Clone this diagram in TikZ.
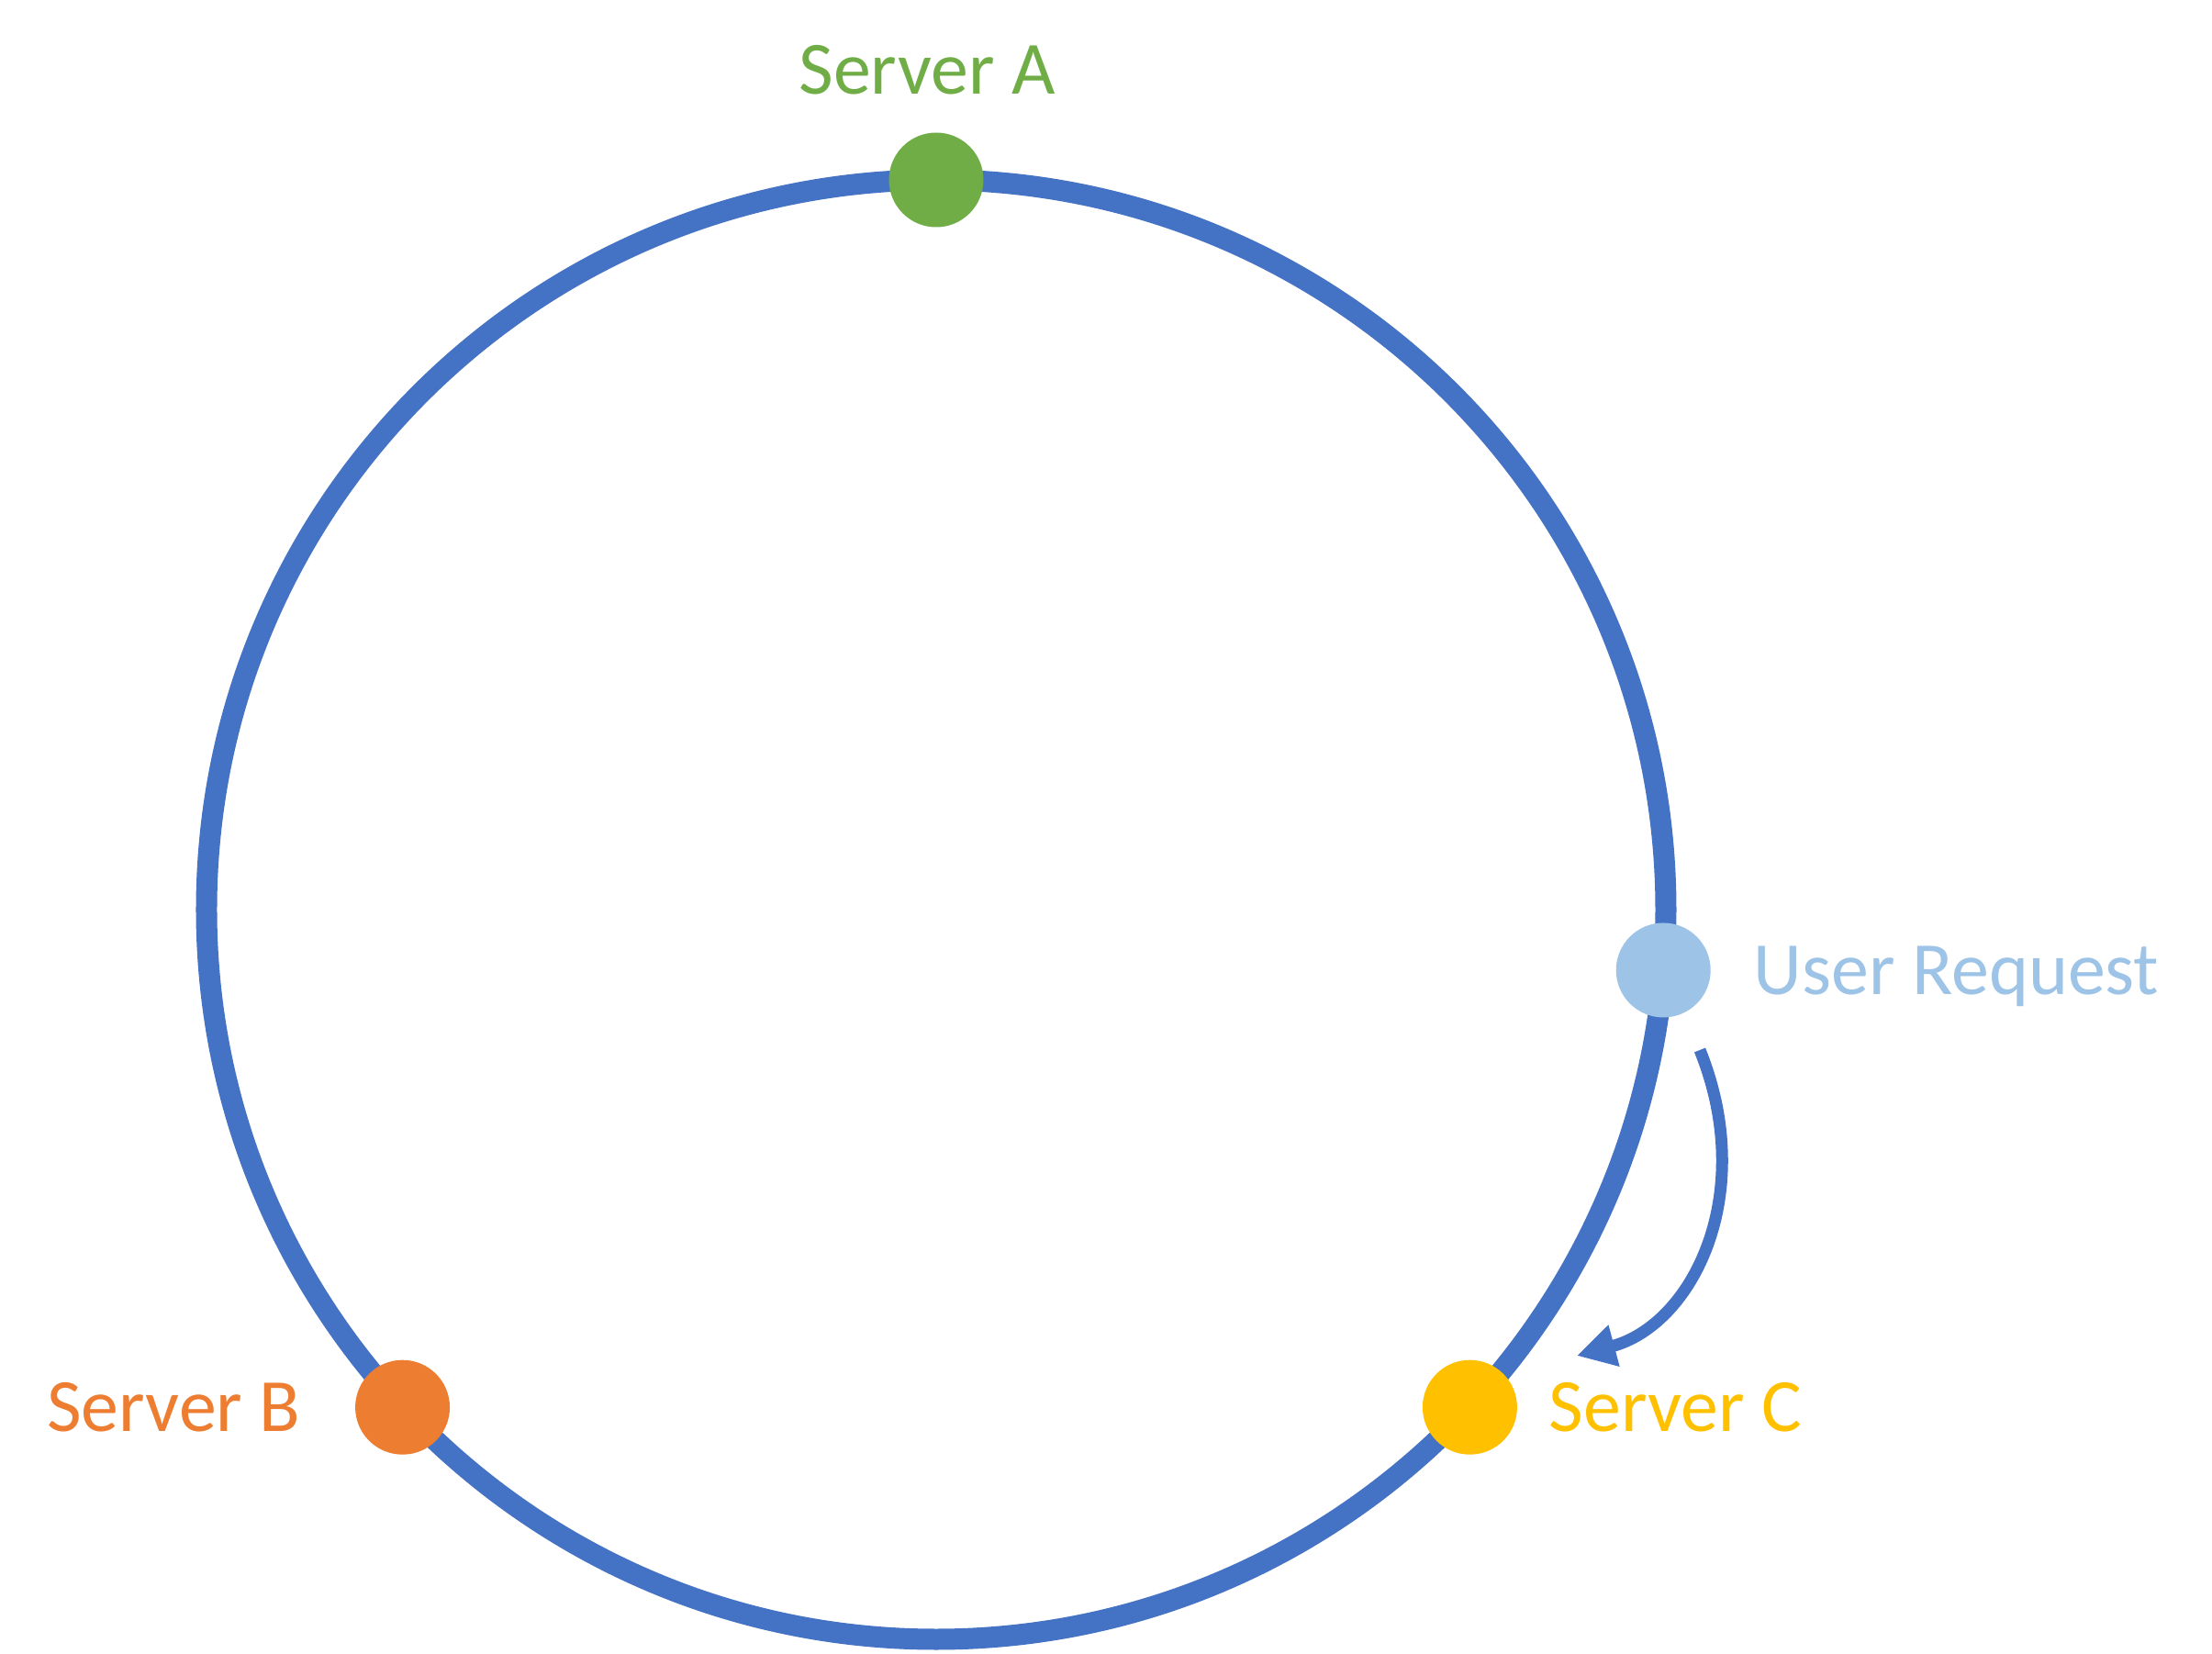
\documentclass[tikz,border=0pt]{standalone}
\usepackage{fontspec}
\setmainfont{Carlito}
\usetikzlibrary{arrows.meta}

\definecolor{ringblue}{HTML}{4472C4}
\definecolor{srvgreen}{HTML}{70AD47}
\definecolor{srvorange}{HTML}{ED7D31}
\definecolor{srvgold}{HTML}{FFC000}
\definecolor{reqblue}{HTML}{9DC3E6}

\tikzset{
    server/.style={circle, fill=#1, inner sep=0pt, minimum size=1.03cm},
    srvlabel/.style={text=#1, inner sep=0pt, font=\fontsize{23.3}{28}\selectfont},
}

\begin{document}
\begin{tikzpicture}
    \useasboundingbox (-10.20,-8.10) rectangle (13.90,9.91);

    % Hash ring
    \coordinate (hub) at (0,0);
    \draw[ringblue, line width=0.23cm] (hub) circle (7.95);

    % Servers on the ring
    \node[server=srvgreen] (srvA) at (90:7.95) {};
    \node[server=srvorange] (srvB) at (-137:7.95) {};
    \node[server=srvgold] (srvC) at (-43:7.95) {};
    \node[server=reqblue] (req) at (-4.76:7.95) {};

    % Labels
    \node[srvlabel=srvgreen, anchor=base] (labA) at (-0.10,8.88) {Server A};
    \node[srvlabel=srvorange, anchor=base east] (labB) at (-6.92,-5.68) {Server B};
    \node[srvlabel=srvgold, anchor=base west] (labC) at (6.67,-5.68) {Server C};
    \node[srvlabel=reqblue, anchor=base west] (labReq) at (8.90,-0.93) {User Request};

    % Request goes clockwise to the next server
    \coordinate (reqout) at (8.32,-1.53);
    \coordinate (cin) at (6.98,-4.86);
    \draw[ringblue, line width=0.13cm, -{Triangle[length=0.42cm, width=0.44cm]}]
        (reqout) .. controls +(-68:1.7) and +(15:1.3) .. (cin);
\end{tikzpicture}
\end{document}
